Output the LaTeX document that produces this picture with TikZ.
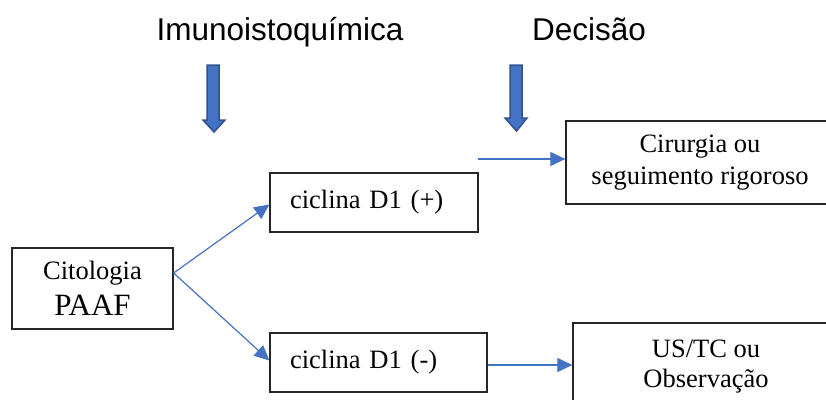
\documentclass[tikz,border=0pt]{standalone}
\usepackage{fontspec}
\setmainfont{Liberation Serif}
\newfontfamily\arialf{Liberation Sans}
\usetikzlibrary{arrows.meta}
\definecolor{cblue}{HTML}{4472C4}
\definecolor{cdark}{HTML}{2F528F}
\tikzset{
  boxnode/.style={draw=black!85, line width=1.3pt, rectangle, inner sep=0pt, font=\fontsize{26.5}{32}\selectfont},
  conn/.style={draw=cblue, line width=1.2pt, -{Triangle[length=15pt,width=14pt]}},
  blockarrow/.style={fill=cblue, draw=cdark, line width=1.5pt, line join=miter},
  title/.style={anchor=base, font=\arialf\fontsize{31.5}{36}\selectfont}
}
\begin{document}
\begin{tikzpicture}[x=1pt,y=-1pt]
\useasboundingbox (0,0) rectangle (826,399);
\clip (0,0) rectangle (826,399);
\fill[white] (0,0) rectangle (826,399);

\node[title] (t1) at (280,40) {Imunoistoquímica};
\node[title] (t2) at (589,40) {Decisão};

\draw[blockarrow] (207,65) -- (219,65) -- (219,120) -- (225,120) -- (214,132) -- (203,120) -- (207,120) -- cycle;
\draw[blockarrow] (510,65) -- (522,65) -- (522,118) -- (527,118) -- (516.5,131) -- (505,118) -- (510,118) -- cycle;

\node[boxnode, minimum width=161pt, minimum height=81pt, align=center, font=\fontsize{26.5}{36}\selectfont] (cit) at (92.5,288.5)
  {Citologia\\\fontsize{31}{36}\selectfont PAAF};
\node[boxnode, minimum width=208pt, minimum height=59pt, text width=168pt, inner xsep=20pt, align=left] (cp) at (374,202.5) {ciclina D1 (+)};
\node[boxnode, minimum width=217pt, minimum height=59pt, text width=177pt, inner xsep=20pt, align=left] (cm) at (378.5,362.5) {ciclina D1 (-)};
\node[boxnode, minimum width=268pt, minimum height=83pt, align=center] (cir) at (700,162.5) {Cirurgia ou\\seguimento rigoroso};
\node[boxnode, minimum width=266pt, minimum height=87pt, align=center, font=\fontsize{26.5}{30}\selectfont] (us) at (706,366.5) {US/TC ou\\Observação};

\coordinate (s1) at (478,159);
\draw[conn] ([yshift=15.5pt]cit.east) -- ([yshift=-2pt]cp.west);
\draw[conn] ([yshift=15.5pt]cit.east) -- ([yshift=2pt]cm.west);
\draw[conn] (s1) -- (s1 -| cir.west);
\draw[conn] ([yshift=-2.5pt]cm.east) -- ([yshift=-2.5pt]cm.east -| us.west);
\end{tikzpicture}
\end{document}
